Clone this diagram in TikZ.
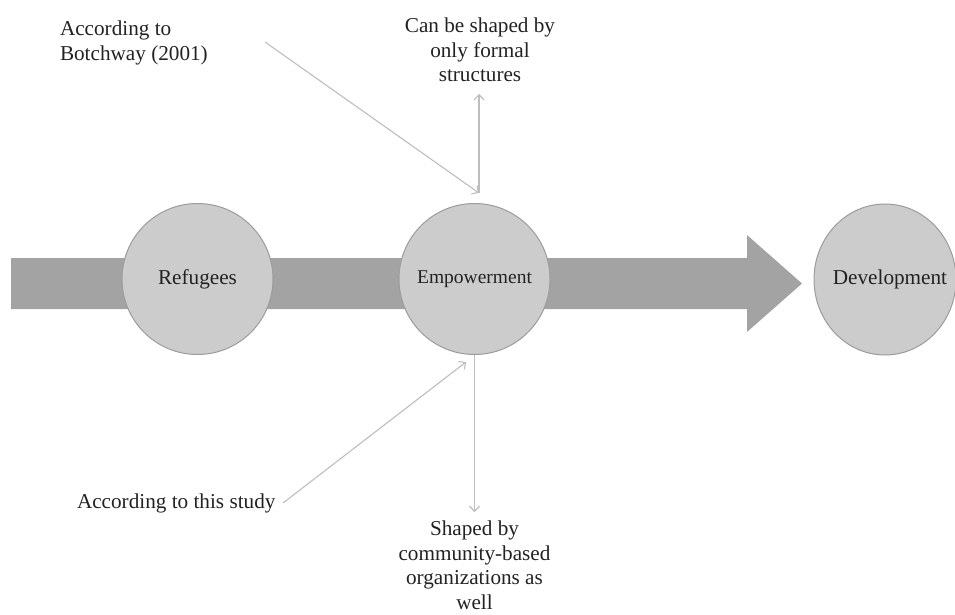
\documentclass[tikz,border=0pt]{standalone}
\usepackage{fontspec}
\setmainfont{Liberation Serif}
\usetikzlibrary{arrows.meta,shapes.geometric}
\definecolor{bigarrow}{HTML}{A3A3A3}
\definecolor{circfill}{HTML}{CCCCCC}
\definecolor{circline}{HTML}{9C9C9C}
\definecolor{conn}{HTML}{BDBDBD}
\definecolor{txt}{HTML}{222222}
\begin{document}
\begin{tikzpicture}[x=1pt,y=-1pt,
  circ/.style={circle,draw=circline,line width=1pt,fill=circfill,minimum size=151pt,inner sep=0pt,
    text=txt,font=\fontsize{21.2}{24.5}\selectfont},
  oval/.style={ellipse,draw=circline,line width=1pt,fill=circfill,minimum width=142pt,minimum height=151pt,inner sep=0pt},
  lbl/.style={text=txt,inner sep=0pt,outer sep=0pt,font=\fontsize{21.2}{24.5}\selectfont},
  connector/.style={draw=conn,line width=1.1pt,-{Straight Barb[length=5pt,width=10pt,line width=1.1pt]}},
  plainline/.style={draw=conn,line width=1.1pt}]
\useasboundingbox (0,0) rectangle (955,614);
% big arrow
\fill[bigarrow] (11,258) -- (747,258) -- (747,235) -- (802,283.5) -- (747,332) -- (747,309) -- (11,309) -- cycle;
% circles
\node[circ] (ref) at (197.5,279) {Refugees};
\node[circ,font=\fontsize{19.5}{24}\selectfont] (emp) at (474.5,279) {Empowerment};
\node[oval] (dev) at (885,279.5) {};
\node[lbl] (devtext) at (890,279.5) {Development};
% labels
\node[lbl,align=left,anchor=west] (botch) at (60,43) {According to\\Botchway (2001)};
\node[lbl,align=center] (formal) at (480,50) {Can be shaped by\\only formal\\structures};
\node[lbl,anchor=west] (study) at (77,503) {According to this study};
\node[lbl,align=center,anchor=north] (cbo) at (474.5,521) {Shaped by\\community-based\\organizations as\\well};
% connector points
\coordinate (bstart) at (265,42);
\coordinate (meet) at (479,193);
\coordinate (uptip) at (479,94);
\coordinate (sstart) at (283,503);
\coordinate (send) at (466,362);
\coordinate (downtip) at (474.5,512);
% connectors
\draw[connector] (bstart) -- (meet);
\draw[connector] (meet) -- (uptip);
\draw[connector] (sstart) -- (send);
\draw[connector] (emp.south) -- (downtip);
\end{tikzpicture}
\end{document}
